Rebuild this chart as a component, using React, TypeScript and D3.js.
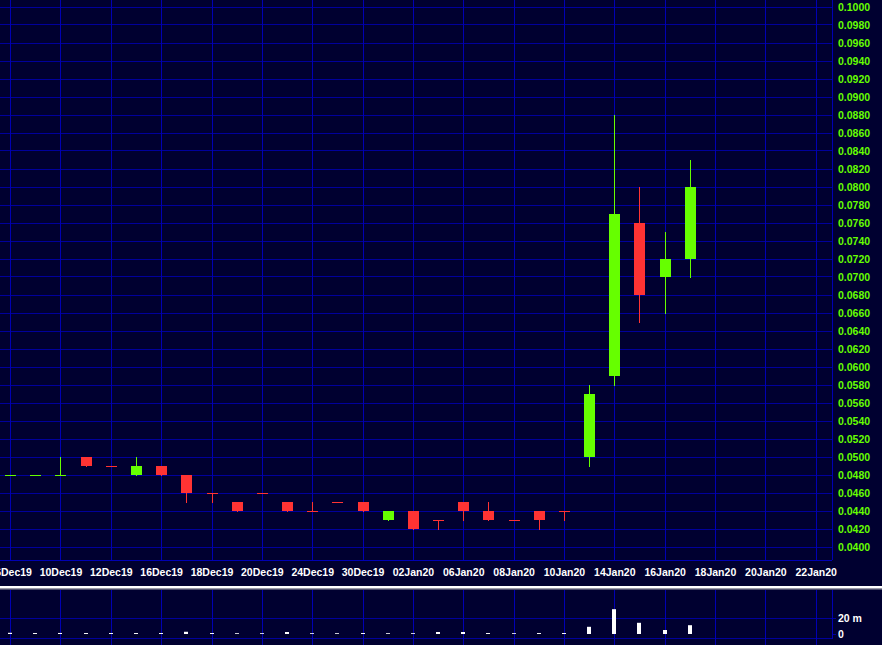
import * as d3 from "d3";

const W = 882;
const H = 645;

// trading days (last five are empty future slots on the axis)
const dates = [
  "06Dec19", "09Dec19", "10Dec19", "11Dec19", "12Dec19", "13Dec19",
  "16Dec19", "17Dec19", "18Dec19", "19Dec19", "20Dec19", "23Dec19",
  "24Dec19", "27Dec19", "30Dec19", "31Dec19", "02Jan20", "03Jan20",
  "06Jan20", "07Jan20", "08Jan20", "09Jan20", "10Jan20", "13Jan20",
  "14Jan20", "15Jan20", "16Jan20", "17Jan20", "18Jan20", "19Jan20",
  "20Jan20", "21Jan20", "22Jan20",
];

const open = [
  0.048, 0.048, 0.048, 0.050, 0.049, 0.048, 0.049, 0.048, 0.046, 0.045,
  0.046, 0.045, 0.044, 0.045, 0.045, 0.043, 0.044, 0.043, 0.045, 0.044,
  0.043, 0.044, 0.044, 0.050, 0.059, 0.076, 0.070, 0.072,
];
const high = [
  0.048, 0.048, 0.050, 0.050, 0.049, 0.050, 0.049, 0.048, 0.046, 0.045,
  0.046, 0.045, 0.045, 0.045, 0.045, 0.044, 0.044, 0.043, 0.045, 0.045,
  0.043, 0.044, 0.044, 0.058, 0.088, 0.080, 0.075, 0.083,
];
const low = [
  0.048, 0.048, 0.048, 0.049, 0.049, 0.048, 0.048, 0.045, 0.045, 0.044,
  0.046, 0.044, 0.044, 0.045, 0.044, 0.043, 0.042, 0.042, 0.043, 0.043,
  0.043, 0.042, 0.043, 0.049, 0.058, 0.065, 0.066, 0.070,
];
const close = [
  0.048, 0.048, 0.048, 0.049, 0.049, 0.049, 0.048, 0.046, 0.046, 0.044,
  0.046, 0.044, 0.044, 0.045, 0.044, 0.044, 0.042, 0.043, 0.044, 0.043,
  0.043, 0.043, 0.044, 0.057, 0.077, 0.068, 0.072, 0.080,
];
// volume in millions
const volume = [
  1.5, 1.2, 1.3, 1.2, 1.2, 1.2, 1.2, 2.8, 1.2, 1.0, 1.0, 2.5, 1.0, 1.0,
  1.2, 1.0, 1.0, 2.5, 2.5, 1.2, 1.0, 1.2, 1.2, 9, 31, 14, 5, 11,
];

const priceTicks = d3.range(0, 31).map((i) => +(0.04 + i * 0.002).toFixed(4));
const volTicks = [0, 20];

const GREEN = "#66ff00";
const RED = "#ff3333";
const BG = "#000030";
const GRID_V = "#0000b4";
const GRID_H = "#00009c";
const FONT = "'Liberation Sans', Arial, sans-serif";

const AXIS_X = 832;
const MAIN_BOTTOM = 560;
const VOL_TOP = 590;
const VOL_BOTTOM = 638;

const x = d3.scalePoint<string>().domain(dates).range([10.6, 816.2]);
const y = d3.scaleLinear().domain([0.1, 0.04]).range([7, 547]);
const yv = d3.scaleLinear().domain([0, 20]).range([634, 618]);

const px = (v: number) => Math.floor(v) + 0.5;

export default function App() {
  const candles = close.map((c, i) => ({
    date: dates[i], o: open[i], h: high[i], l: low[i], c,
  }));
  // flat candles take the colour of the previous one
  const colors: string[] = [];
  candles.forEach((d, i) => {
    if (d.c > d.o) colors.push(GREEN);
    else if (d.c < d.o) colors.push(RED);
    else colors.push(i === 0 ? GREEN : colors[i - 1]);
  });
  const gridDates = dates.filter((_, i) => i % 2 === 0);

  return (
    <svg width={W} height={H} style={{ position: "absolute", left: 0, top: 0, display: "block" }}
      fontFamily={FONT} fontWeight="bold" fontSize={10.5}>
      <rect width={W} height={H} fill={BG} />

      {/* main panel grid */}
      {priceTicks.map((t) => (
        <line key={"h" + t} x1={0} x2={AXIS_X} y1={px(y(t))} y2={px(y(t))} stroke={GRID_H} />
      ))}
      {gridDates.map((d) => (
        <line key={"v" + d} x1={px(x(d)!)} x2={px(x(d)!)} y1={0} y2={MAIN_BOTTOM} stroke={GRID_V} />
      ))}
      <line x1={0} x2={AXIS_X} y1={MAIN_BOTTOM + 0.5} y2={MAIN_BOTTOM + 0.5} stroke={GRID_V} />
      <line x1={AXIS_X + 0.5} x2={AXIS_X + 0.5} y1={0} y2={MAIN_BOTTOM} stroke={GRID_V} />

      {/* candles */}
      {candles.map((d, i) => {
        const cx = Math.floor(x(d.date)!);
        const top = Math.round(y(Math.max(d.o, d.c)));
        const bot = Math.round(y(Math.min(d.o, d.c)));
        return (
          <g key={d.date}>
            <line x1={cx + 0.5} x2={cx + 0.5} y1={Math.round(y(d.h))} y2={Math.round(y(d.l)) + 1}
              stroke={colors[i]} />
            <rect x={cx - 5} y={top} width={11} height={Math.max(1, bot - top)} fill={colors[i]} />
          </g>
        );
      })}

      {/* price labels */}
      {priceTicks.map((t) => (
        <text key={"pl" + t} x={838} y={y(t)} dy="0.36em" fill={GREEN}>{t.toFixed(4)}</text>
      ))}

      {/* date labels */}
      {gridDates.map((d) => (
        <text key={"dl" + d} x={x(d)} y={576} textAnchor="middle" fill="#ffffff">{d}</text>
      ))}

      {/* separator */}
      <rect x={0} y={586} width={W} height={2} fill="#ffffff" />
      <rect x={0} y={588} width={W} height={1.5} fill="#9a9aa8" />

      {/* volume panel */}
      {volTicks.filter((t) => t > 0).map((t) => (
        <line key={"vh" + t} x1={0} x2={AXIS_X + 4} y1={px(yv(t))} y2={px(yv(t))} stroke={GRID_H} />
      ))}
      <line x1={0} x2={AXIS_X} y1={VOL_BOTTOM + 0.5} y2={VOL_BOTTOM + 0.5} stroke={GRID_H} />
      <line x1={AXIS_X} x2={AXIS_X + 4} y1={px(yv(0))} y2={px(yv(0))} stroke={GRID_H} />
      {gridDates.map((d) => (
        <line key={"vv" + d} x1={px(x(d)!)} x2={px(x(d)!)} y1={VOL_TOP} y2={H} stroke={GRID_V} />
      ))}
      <line x1={AXIS_X + 0.5} x2={AXIS_X + 0.5} y1={VOL_TOP} y2={VOL_BOTTOM + 1} stroke={GRID_V} />
      {volume.map((v, i) => {
        const cx = Math.floor(x(dates[i])!);
        return (
          <rect key={"vb" + i} x={cx - 2} y={yv(v)} width={4} height={yv(0) - yv(v)} fill="#ffffff" />
        );
      })}
      {volTicks.map((t) => (
        <text key={"vl" + t} x={838} y={yv(t)} dy="0.36em" fill="#ffffff">{t === 0 ? "0" : `${t} m`}</text>
      ))}
    </svg>
  );
}
